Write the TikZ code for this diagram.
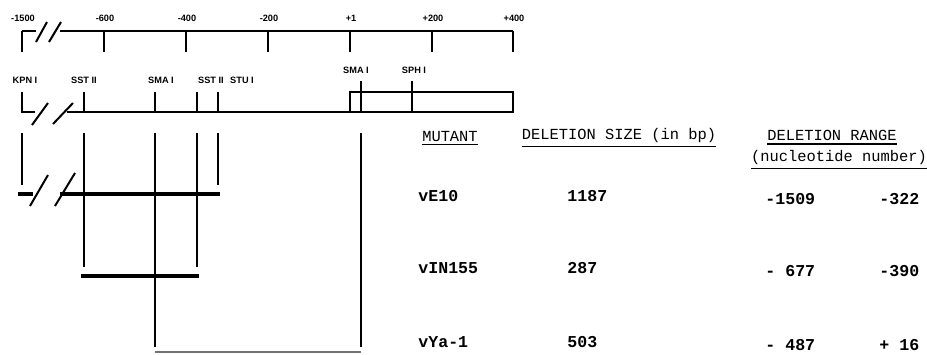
\documentclass[tikz,border=0pt]{standalone}
\usepackage{fontspec}
\setsansfont{Liberation Sans}
\setmonofont{Liberation Mono}
\usetikzlibrary{positioning}
\tikzset{
  rule/.style={line width=1pt,black},
  cut/.style={line width=2.1pt,black},
  site/.style={font=\fontsize{4.6}{5}\selectfont\sffamily\bfseries,inner sep=0pt},
  head/.style={font=\fontsize{7.7}{8}\selectfont\ttfamily,inner sep=0pt},
  cell/.style={font=\fontsize{8.3}{9}\selectfont\ttfamily\bfseries,inner sep=0pt,anchor=west},
  uline/.style={line width=0.7pt,black},
}

\begin{document}
\begin{tikzpicture}[x=0.5pt,y=-0.5pt]
  \useasboundingbox (0,0) rectangle (927,354);
  % scale
  \draw[rule] (22,31) -- (36,31) (60,31) -- (513,31);
  \draw[rule] (36,42) -- (47,22) (49,42) -- (61,22);
  \foreach \x/\t [count=\i] in {22/-1500,104/-600,186/-400,268/-200,350/+1,432/+200,513/+400}
    {\draw[rule] (\x,31) -- (\x,52); \node[site] (s\i) at (\x+1,18) {\t};}
  % restriction map
  \draw[rule] (22,92) -- (22,112) -- (35,112) (67,112) -- (350,112);
  \draw[rule] (32,125) -- (48,103) (53,124) -- (73,103);
  \draw[rule] (350,92) rectangle (513,112);
  \foreach \x in {84,155,197,218} \draw[rule] (\x,92) -- (\x,112);
  \foreach \x in {361,412} \draw[rule] (\x,81) -- (\x,112);
  \node[site] (kpn) at (25,80) {KPN I};
  \node[site] (sst1) at (84,80) {SST II};
  \node[site] (sma1) at (161,80) {SMA I};
  \node[site] (sst2) at (211,80) {SST II};
  \node[site] (stu) at (242,80) {STU I};
  \node[site] (sma2) at (356,70) {SMA I};
  \node[site] (sph) at (414,70) {SPH I};
  % deletions
  \foreach \x/\y in {22/185,84/267,155/347,197/267,218/185,361/347} \draw[rule] (\x,133) -- (\x,\y);
  \draw[cut] (18,194) -- (33,194) (60,194) -- (220,194);
  \draw[rule] (30,206) -- (48,175) (55,206) -- (75,173);
  \draw[cut] (81,276) -- (199,276);
  \draw[black!55,line width=0.8pt] (155,352) -- (361,352);
  % table
  \node[head] (mut) at (450,136) {MUTANT};
  \node[head] (size) at (619,136) {DELETION SIZE (in bp)};
  \node[head] (rng) at (832,135) {DELETION RANGE};
  \node[head] (nuc) at (839,158) {(nucleotide number)};
  \foreach \n in {mut,size,rng,nuc} \draw[uline] ([yshift=-1.6pt]\n.south west) -- ([yshift=-1.6pt]\n.south east);
  \foreach \m/\s/\a/\b/\y in {vE10/1187/-1509/-322/196,vIN155/287/- 677/-390/268,vYa-1/503/- 487/+ 16/342}
    {\node[cell] (m\m) at (418,\y) {\m};
     \node[cell] (z\m) at (567,\y) {\s};
     \node[cell] (a\m) at (765,\y+3) {\a};
     \node[cell] (b\m) at (879,\y+3) {\b};}
\end{tikzpicture}
\end{document}
